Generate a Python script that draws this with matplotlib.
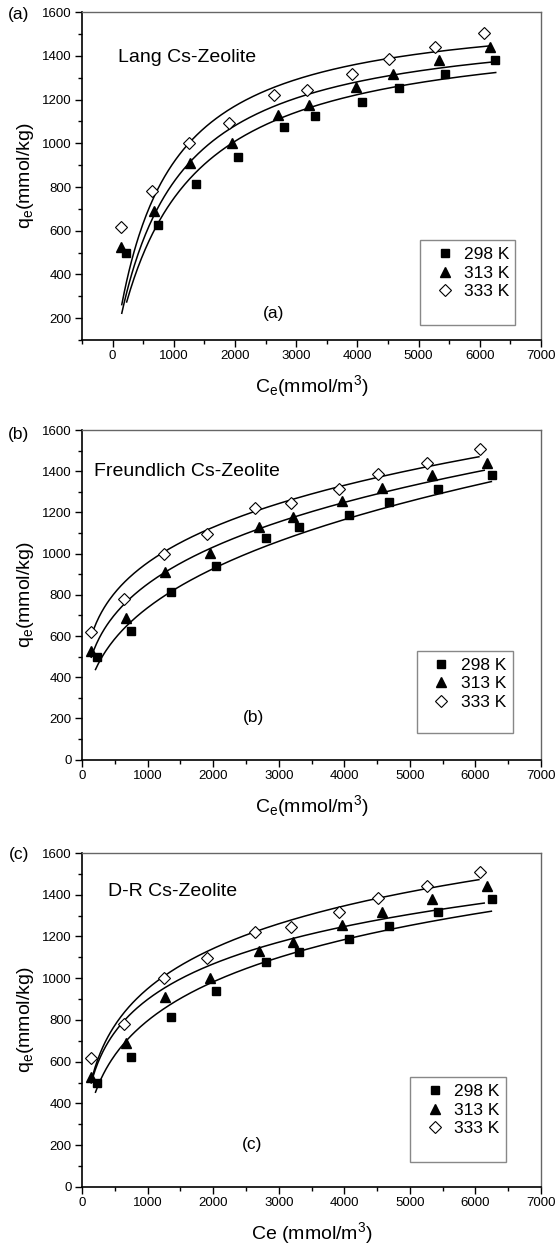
import matplotlib
matplotlib.use('Agg')
import matplotlib.pyplot as plt
from matplotlib.ticker import MultipleLocator
from matplotlib.patches import Rectangle
from matplotlib.lines import Line2D
import numpy as np

plt.rcParams['font.family'] = ['Liberation Sans', 'DejaVu Sans']
plt.rcParams['mathtext.default'] = 'regular'

# measured points (Ce in mmol/m3, qe in mmol/kg)
temps = [298, 313, 333]
ce_298 = [227, 750, 1355, 2041, 2808, 3314, 4076, 4680, 5424, 6256]
qe_298 = [500, 625, 814, 939, 1076, 1127, 1189, 1252, 1316, 1380]
ce_313 = [134, 669, 1267, 1948, 2703, 3215, 3971, 4581, 5337, 6169]
qe_313 = [527, 690, 910, 1003, 1130, 1176, 1256, 1318, 1382, 1440]
ce_333 = [134, 640, 1244, 1907, 2640, 3180, 3919, 4517, 5262, 6070]
qe_333 = [618, 780, 1000, 1095, 1220, 1244, 1316, 1385, 1441, 1507]

# fitted isotherm parameters (298, 313, 333 K)
lang_qm = [1551, 1574, 1630]
lang_K = [0.000932, 0.001096, 0.001275]
lang_range = [(230, 6260), (150, 6260), (150, 6150)]

freu_Kf = [75.35, 127.3, 183.3]
freu_inv_n = [0.3302, 0.2753, 0.2391]
freu_range = [(206, 6243), (141, 6134), (141, 6053)]

dr_qm = [2400, 2235, 2504]
dr_beta = [0.003765, 0.0028196, 0.002650]   # mol2/kJ2
dr_range = [(206, 6243), (141, 6134), (140, 6053)]

ce_all = [ce_298, ce_313, ce_333]
qe_all = [qe_298, qe_313, qe_333]
labels = ['298 K', '313 K', '333 K']


def langmuir(c, i):
    return lang_qm[i] * lang_K[i] * c / (1 + lang_K[i] * c)


def freundlich(c, i):
    return freu_Kf[i] * c ** freu_inv_n[i]


def dubinin(c, i):
    eps = 8.314e-3 * temps[i] * np.log(1 + 1 / (c * 1e-6))
    return dr_qm[i] * np.exp(-dr_beta[i] * eps ** 2)


fig = plt.figure(figsize=(5.57, 12.48), dpi=100)
ax1 = fig.add_axes([0.1472, 0.7276, 0.8241, 0.2626])
ax2 = fig.add_axes([0.1472, 0.3913, 0.8241, 0.2641])
ax3 = fig.add_axes([0.1472, 0.0489, 0.8241, 0.2676])

panels = [
    (ax1, langmuir, lang_range, 'Lang Cs-Zeolite', (90, 1395), (2630, 220), (-500, 7000), (100, 1600),
     'C$_e$(mmol/m$^3$)', (0.736, 0.047, 0.208, 0.258), '(a)', 0.9885),
    (ax2, freundlich, freu_range, 'Freundlich Cs-Zeolite', (180, 1400), (2620, 205), (0, 7000), (0, 1600),
     'C$_e$(mmol/m$^3$)', (0.729, 0.080, 0.211, 0.251), '(b)', 0.652),
    (ax3, dubinin, dr_range, 'D-R Cs-Zeolite', (400, 1415), (2590, 205), (0, 7000), (0, 1600),
     'Ce (mmol/m$^3$)', (0.714, 0.074, 0.209, 0.255), '(c)', 0.3155),
]

markers = [dict(marker='s', ms=6, mfc='black', mec='black'),
           dict(marker='^', ms=7, mfc='black', mec='black'),
           dict(marker='D', ms=6.3, mfc='white', mec='black', mew=0.8)]

for ax, model, ranges, title, tpos, lpos, xl, yl, xlab, box, letter, ly in panels:
    for i in range(3):
        c = np.linspace(ranges[i][0], ranges[i][1], 300)
        ax.plot(c, model(c, i), color='black', lw=1.1, zorder=2)
        ax.plot(ce_all[i], qe_all[i], ls='none', zorder=3, **markers[i])
    ax.set_xlim(*xl)
    ax.set_ylim(*yl)
    ax.xaxis.set_major_locator(MultipleLocator(1000))
    ax.xaxis.set_minor_locator(MultipleLocator(500))
    ax.yaxis.set_major_locator(MultipleLocator(200))
    ax.yaxis.set_minor_locator(MultipleLocator(100))
    ax.tick_params(which='major', direction='out', length=5, width=1, labelsize=9.5, pad=2.5)
    ax.tick_params(which='minor', direction='out', length=3, width=1)
    for s in ['left', 'bottom']:
        ax.spines[s].set_linewidth(1.2)
    for s in ['top', 'right']:
        ax.spines[s].set_color('#666666')
        ax.spines[s].set_linewidth(1.0)
    ax.set_xlabel(xlab, fontsize=14, labelpad=8)
    ax.set_ylabel('q$_e$(mmol/kg)', fontsize=14, labelpad=4)
    ax.text(tpos[0], tpos[1], title, fontsize=14, ha='left', va='center')
    ax.text(lpos[0], lpos[1], letter, fontsize=12.5, ha='center', va='center')
    ax.add_patch(Rectangle((box[0], box[1]), box[2], box[3], transform=ax.transAxes,
                           fill=False, ec='#888888', lw=1.0, zorder=4))
    handles = [Line2D([], [], ls='none', **markers[i]) for i in range(3)]
    ax.legend(handles, labels, loc='upper left', bbox_to_anchor=(box[0] + 0.02, box[1] + box[3]),
              frameon=False, fontsize=12.5, handlelength=1.0, handletextpad=0.6,
              labelspacing=0.2, borderpad=0.4, borderaxespad=0)
    fig.text(0.034, ly, letter, fontsize=12.5, ha='center', va='center')

fig.savefig('out.png', dpi=100)
